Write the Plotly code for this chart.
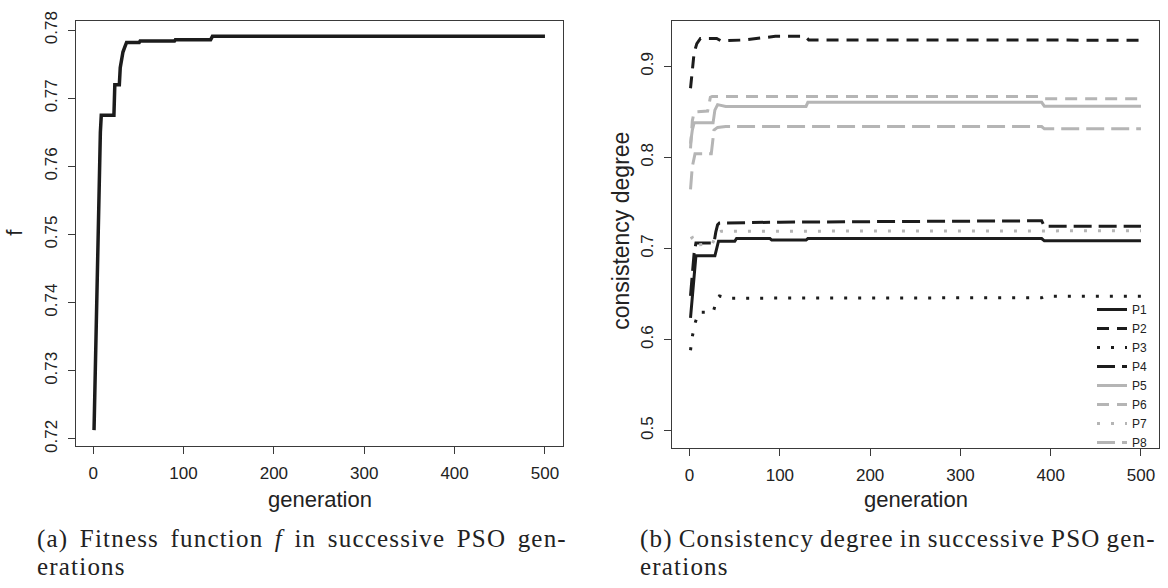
import plotly.graph_objects as go

# ---------------- data ----------------
# (a) fitness function f
f_gen = [1, 2, 3, 4, 5, 6, 7, 8, 9, 23, 24, 29, 30, 32, 33, 35, 37, 51, 52, 90, 91, 130, 132, 500]
f_val = [0.7213, 0.7280, 0.7340, 0.7410, 0.7470, 0.7540, 0.7600, 0.7650, 0.7675, 0.7675,
         0.7720, 0.7720, 0.7745, 0.7765, 0.7768, 0.7775, 0.7782, 0.7782, 0.7784, 0.7784,
         0.7786, 0.7786, 0.7791, 0.7791]

# (b) consistency degree per expert
p1_gen = [1, 3, 5, 7, 28, 30, 32, 50, 52, 89, 91, 129, 131, 390, 393, 500]
p1_val = [0.624, 0.650, 0.675, 0.692, 0.692, 0.702, 0.708, 0.708, 0.711, 0.711, 0.7093, 0.7093,
          0.711, 0.711, 0.7085, 0.7085]
p2_gen = [1, 3, 5, 8, 12, 30, 35, 60, 95, 128, 132, 500]
p2_val = [0.876, 0.895, 0.915, 0.925, 0.9307, 0.9307, 0.928, 0.929, 0.933, 0.933, 0.929, 0.9288]
p3_gen = [1, 3, 6, 10, 26, 30, 33, 42, 390, 393, 500]
p3_val = [0.5884, 0.6033, 0.618, 0.630, 0.630, 0.6433, 0.6479, 0.6455, 0.646, 0.6475, 0.6475]
p4_gen = [1, 3, 5, 7, 27, 29, 31, 33, 100, 390, 393, 500]
p4_val = [0.648, 0.670, 0.695, 0.706, 0.706, 0.718, 0.726, 0.728, 0.729, 0.7305, 0.7245, 0.7245]
p5_gen = [1, 3, 5, 26, 28, 31, 40, 129, 131, 390, 393, 500]
p5_val = [0.815, 0.830, 0.838, 0.838, 0.852, 0.858, 0.856, 0.856, 0.8605, 0.8605, 0.8563, 0.8563]
p6_gen = [1, 3, 5, 20, 23, 25, 390, 393, 500]
p6_val = [0.810, 0.840, 0.850, 0.851, 0.866, 0.867, 0.867, 0.8645, 0.8645]
p7_gen = [1, 3, 6, 25, 30, 35, 500]
p7_val = [0.711, 0.712, 0.704, 0.705, 0.716, 0.719, 0.7195]
p8_gen = [1, 3, 6, 24, 27, 31, 40, 390, 393, 500]
p8_val = [0.765, 0.790, 0.804, 0.804, 0.830, 0.833, 0.834, 0.834, 0.8315, 0.8315]

series_names = ["P1", "P2", "P3", "P4", "P5", "P6", "P7", "P8"]
x_ticks = [0, 100, 200, 300, 400, 500]
f_ticks = [0.72, 0.73, 0.74, 0.75, 0.76, 0.77, 0.78]
c_ticks = [0.5, 0.6, 0.7, 0.8, 0.9]

# ---------------- styling ----------------
W, H = 1168, 588
BLACK = "#1c1c1c"
GRAY = "#b5b5b5"
AX = "#3a3a3a"

styles = {
    "P1": (BLACK, "solid"),
    "P2": (BLACK, "12px,8px"),
    "P3": (BLACK, "3px,11px"),
    "P4": (BLACK, "18px,7px"),
    "P5": (GRAY, "solid"),
    "P6": (GRAY, "12px,8px"),
    "P7": (GRAY, "3px,11px"),
    "P8": (GRAY, "18px,7px"),
}
data_b = {
    "P1": (p1_gen, p1_val), "P2": (p2_gen, p2_val), "P3": (p3_gen, p3_val), "P4": (p4_gen, p4_val),
    "P5": (p5_gen, p5_val), "P6": (p6_gen, p6_val), "P7": (p7_gen, p7_val), "P8": (p8_gen, p8_val),
}

fig = go.Figure()
fig.add_trace(go.Scatter(x=f_gen, y=f_val, mode="lines", line=dict(color=BLACK, width=3.5),
                         showlegend=False, xaxis="x", yaxis="y"))
for name in series_names:
    gx, gy = data_b[name]
    col, dash = styles[name]
    fig.add_trace(go.Scatter(x=gx, y=gy, mode="lines", name=name,
                             line=dict(color=col, width=3, dash=dash),
                             xaxis="x2", yaxis="y2"))

def px_x(p):
    return p / W

def px_y(p):
    return 1 - p / H

axis_common = dict(showline=True, mirror=True, linecolor=AX, linewidth=1.2,
                   ticks="outside", ticklen=7, tickcolor=AX, tickwidth=1.2,
                   showgrid=False, zeroline=False,
                   tickfont=dict(family="Liberation Sans", size=17, color="#222"))

fig.update_layout(
    width=W, height=H,
    margin=dict(l=0, r=0, t=0, b=0),
    paper_bgcolor="white", plot_bgcolor="white",
    xaxis=dict(domain=[px_x(76), px_x(563)], range=[-18.96, 519.96], tickvals=x_ticks,
               anchor="y", ticklabelstandoff=5, **axis_common),
    yaxis=dict(domain=[px_y(449), px_y(12)], range=[0.719, 0.7814], tickvals=f_ticks,
               ticktext=[f"{v:.2f}" for v in f_ticks], tickangle=-90, anchor="x",
               ticklabelstandoff=4, **axis_common),
    xaxis2=dict(domain=[px_x(672), px_x(1159)], range=[-19.5, 520], tickvals=x_ticks,
                anchor="y2", ticklabelstandoff=5, **axis_common),
    yaxis2=dict(domain=[px_y(451), px_y(12)], range=[0.4813, 0.9502], tickvals=c_ticks,
                ticktext=[f"{v:.1f}" for v in c_ticks], tickangle=-90, anchor="x2",
                ticklabelstandoff=4, **axis_common),
    legend=dict(x=px_x(1092), y=px_y(294), xanchor="left", yanchor="top",
                bgcolor="rgba(255,255,255,0)", borderwidth=0,
                font=dict(family="Liberation Sans", size=12, color="#222"),
                tracegroupgap=0, itemwidth=30),
    showlegend=True,
)

lab_font = dict(family="Liberation Sans", size=22, color="#222")
cap_font = dict(family="Liberation Serif", size=25, color="#222")
CAP1 = 'letter-spacing:1.2px;word-spacing:4px'
CAP1B = 'letter-spacing:1.2px;word-spacing:-1.5px'
annots = [
    dict(text="generation", x=px_x(320), y=px_y(504), font=lab_font),
    dict(text="generation", x=px_x(916), y=px_y(504), font=lab_font),
    dict(text="f", x=px_x(15), y=px_y(230), font=lab_font, textangle=-90),
    dict(text="consistency degree", x=px_x(621), y=px_y(228),
         font=dict(family="Liberation Sans", size=23, color="#222"), textangle=-90),
    dict(text=f'<span style="{CAP1}">(a) Fitness function <i>f</i> in successive PSO gen-</span>',
         x=px_x(35), y=px_y(545), font=cap_font, xanchor="left"),
    dict(text=f'<span style="{CAP1}">erations</span>',
         x=px_x(35), y=px_y(573), font=cap_font, xanchor="left"),
    dict(text=f'<span style="{CAP1B}">(b) Consistency degree in successive PSO gen-</span>',
         x=px_x(638), y=px_y(545), font=cap_font, xanchor="left"),
    dict(text=f'<span style="{CAP1B}">erations</span>',
         x=px_x(638), y=px_y(573), font=cap_font, xanchor="left"),
]
for a in annots:
    a.setdefault("xanchor", "center")
    fig.add_annotation(xref="paper", yref="paper", yanchor="middle", showarrow=False, **a)

fig.write_html("out.html", config={"displayModeBar": False},
               post_script="document.body.style.margin='0';document.body.style.overflow='hidden';")
